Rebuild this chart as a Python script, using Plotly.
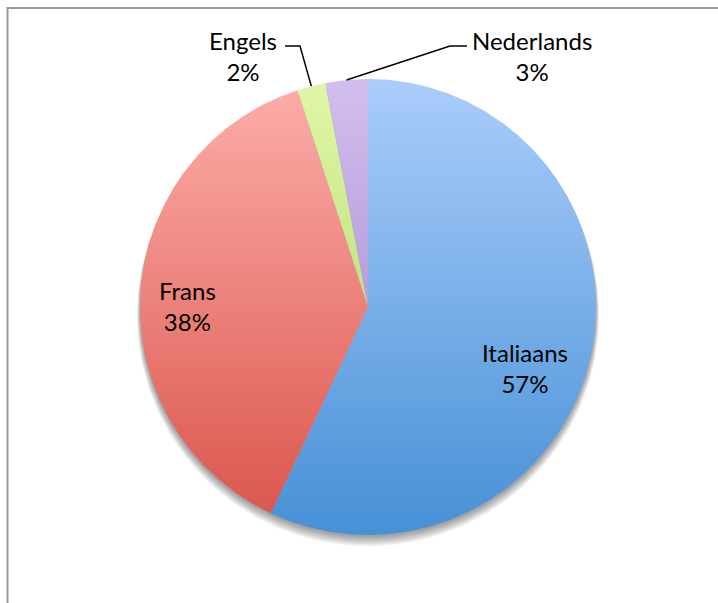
import numpy as np
import plotly.graph_objects as go

# Talen en hun aandeel (%)
languages = ["Italiaans", "Frans", "Engels", "Nederlands"]
shares = [57, 38, 2, 3]
percent_labels = ["57%", "38%", "2%", "3%"]

# Gradient colours per slice (top -> bottom)
top_colors = ["#abcdfb", "#fdaeaa", "#e0f7a8", "#d2beee"]
bottom_colors = ["#4690d6", "#d9534a", "#a4cf5a", "#9a7cc8"]

W, H = 718, 603
cx, cy, r = 368, 307, 228

def point(theta_deg, radius):
    t = np.radians(theta_deg)
    return cx + radius * np.sin(t), cy - radius * np.cos(t)

fig = go.Figure()

# soft drop shadow below the pie
for k in range(0, 6):
    tt = np.linspace(0, 360, 241)
    xs, ys = point(tt, r + k * 0.6)
    ys = ys + 2 + k * 1.2
    fig.add_trace(go.Scatter(x=xs, y=ys, mode="lines", fill="toself",
                             fillcolor="rgba(0,0,0,0.07)", line=dict(width=0),
                             hoverinfo="skip", showlegend=False))

total = float(sum(shares))
start = 0.0
mids = []
for name, v, c0, c1 in zip(languages, shares, top_colors, bottom_colors):
    span = 360.0 * v / total
    tt = np.linspace(start, start + span, max(int(span * 2), 4))
    ax, ay = point(tt, r)
    xs = np.concatenate([[cx], ax, [cx]])
    ys = np.concatenate([[cy], ay, [cy]])
    fig.add_trace(go.Scatter(
        x=xs, y=ys, mode="lines", fill="toself", name=name,
        line=dict(width=0, color=c1),
        fillgradient=dict(type="vertical",
                          colorscale=[[0, c0], [1, c1]],
                          start=cy - r, stop=cy + r),
        hoverinfo="skip", showlegend=False))
    mids.append(start + span / 2)
    start += span

font = dict(family="Lato, Open Sans, sans-serif", size=24, color="#000000")

# labels inside the two large slices
inside = {0: (525, 368), 1: (187, 306)}
for i, (lx, ly) in inside.items():
    fig.add_annotation(x=lx, y=ly, text=f"{languages[i]}<br>{percent_labels[i]}",
                       showarrow=False, font=font, align="center")

# outside labels with leader lines for the small slices
outside = {2: dict(text_xy=(243, 56), elbow=[(285, 46), (300, 46)]),
           3: dict(text_xy=(532, 56), elbow=[(467, 46), (450, 46)])}
for i, spec in outside.items():
    lx, ly = spec["text_xy"]
    fig.add_annotation(x=lx, y=ly, text=f"{languages[i]}<br>{percent_labels[i]}",
                       showarrow=False, font=font, align="center")
    ex, ey = point(mids[i], r)
    pts = spec["elbow"] + [(ex, ey)]
    fig.add_trace(go.Scatter(x=[p[0] for p in pts], y=[p[1] for p in pts],
                             mode="lines", line=dict(color="#000000", width=1.5),
                             hoverinfo="skip", showlegend=False))

# chart area frame
fig.add_shape(type="rect", x0=7.5, y0=8, x1=W + 20, y1=H + 20,
              line=dict(color="#9a9a9a", width=2), layer="above")

fig.update_xaxes(range=[0, W], visible=False, fixedrange=True)
fig.update_yaxes(range=[H, 0], visible=False, fixedrange=True)
fig.update_layout(width=W, height=H, margin=dict(l=0, r=0, t=0, b=0),
                  paper_bgcolor="white", plot_bgcolor="white")

fig.write_html("out.html")
